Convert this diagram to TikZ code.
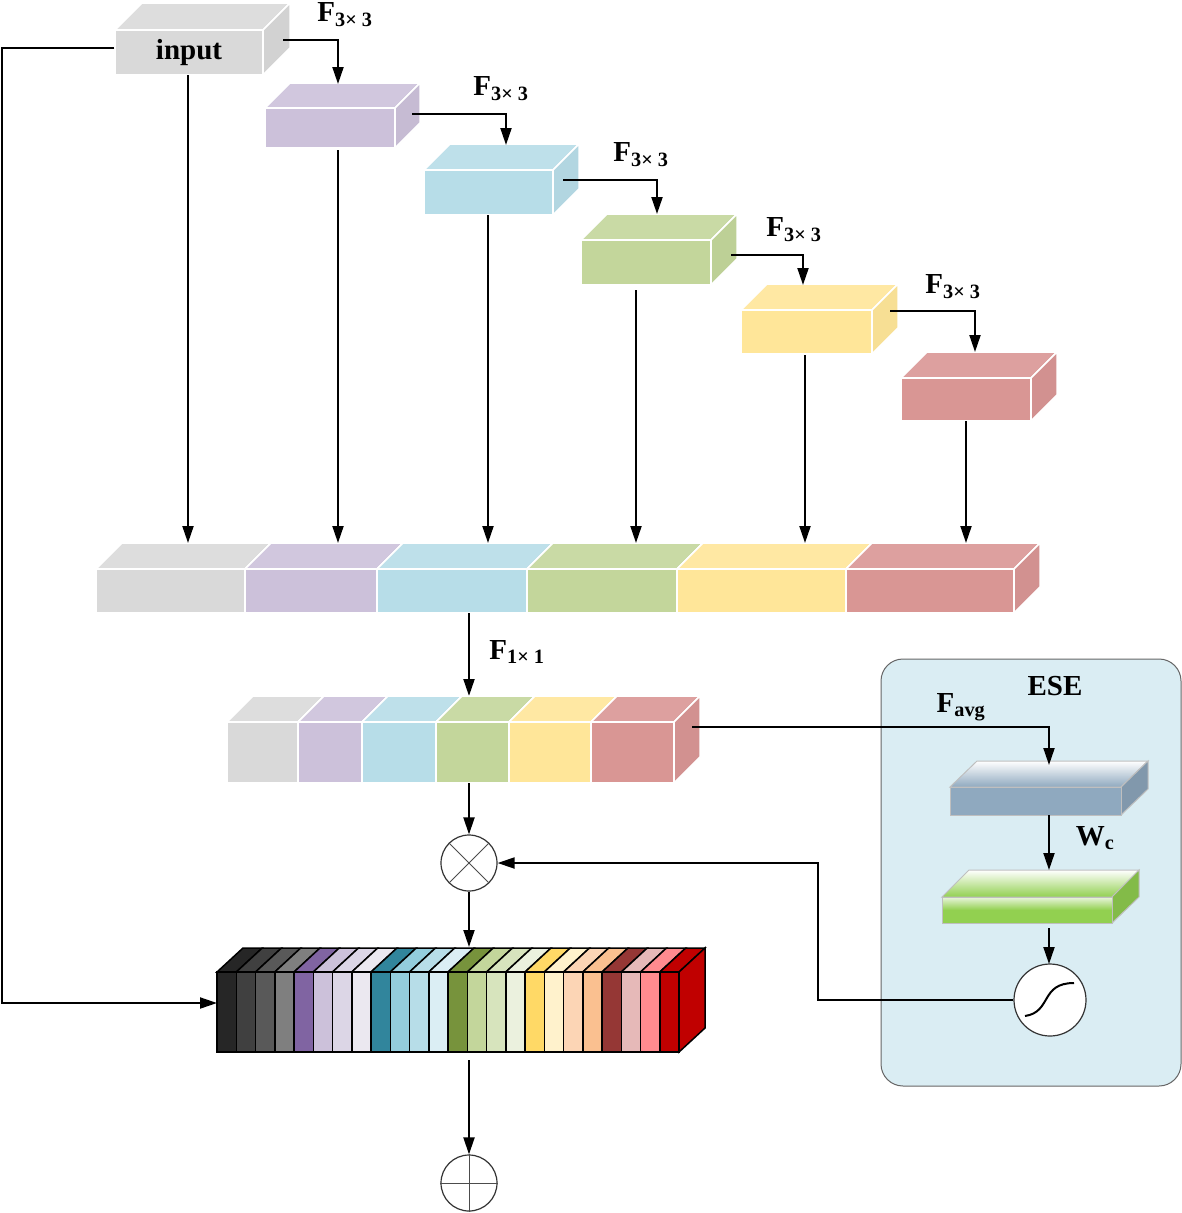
\documentclass[tikz,border=0pt]{standalone}
\usepackage{fontspec}
\setmainfont{Liberation Serif}
\usetikzlibrary{arrows.meta}

\definecolor{cgray}{HTML}{D9D9D9}
\definecolor{cpurple}{HTML}{CCC1DA}
\definecolor{cblue}{HTML}{B7DDE8}
\definecolor{cgreen}{HTML}{C3D69B}
\definecolor{cyellow}{HTML}{FFE699}
\definecolor{cred}{HTML}{D99694}
\definecolor{eseback}{HTML}{DAEDF3}
\definecolor{slabblue}{HTML}{8FA9BF}
\definecolor{slabgreen}{HTML}{92D050}
\definecolor{stripred}{HTML}{C00000}

\tikzset{
  lbl/.style={font=\fontsize{29}{33}\selectfont\bfseries, inner sep=0pt},
  arr/.style={-{Triangle[length=17pt,width=11pt]}, line width=2pt},
  face/.style={draw=white, line width=1.5pt},
}

% cube: name, x1, y1, x2, y2, depth, colour
\newcommand{\cube}[7]{%
  \fill[face, fill=#7!90!white] (#2,#3) -- (#2+#6,#3-#6) -- (#4+#6,#3-#6) -- (#4,#3) -- cycle;
  \fill[face, fill=#7!97!black] (#4,#3) -- (#4+#6,#3-#6) -- (#4+#6,#5-#6) -- (#4,#5) -- cycle;
  \node[face, fill=#7, inner sep=0pt, minimum width={(#4-#2)*1pt}, minimum height={(#5-#3)*1pt}]
    (#1) at ({(#2+#4)/2},{(#3+#5)/2}) {};
}

\begin{document}
\begin{tikzpicture}[x=1pt, y=-1pt]
\useasboundingbox (0,0) rectangle (1182,1213);

% ESE panel
\node[draw=black!60, fill=eseback, rounded corners=22pt, line width=1pt, minimum width=300pt, minimum height=427pt, inner sep=0pt] (ese) at (1031,872.5) {};
\node[lbl] (esel) at (1055,686) {ESE};

% feature blocks
\cube{in}{115}{30}{263}{75}{27}{cgray}
\node[lbl] at (in) {input};
\cube{b1}{265}{108}{395}{148}{25}{cpurple}
\cube{b2}{424}{170}{553}{215}{26}{cblue}
\cube{b3}{581}{240}{711}{285}{26}{cgreen}
\cube{b4}{741}{310}{872}{354}{26}{cyellow}
\cube{b5}{901}{378}{1031}{421}{26}{cred}

% chained 3x3 convolutions
\draw[arr] (283,40) -| (338,84);
\node[lbl] at (345,15) {F\textsubscript{3× 3}};
\draw[arr] (412,114) -| (506,145);
\node[lbl] at (501,89) {F\textsubscript{3× 3}};
\draw[arr] (563,180) -| (657,214);
\node[lbl] at (641,155) {F\textsubscript{3× 3}};
\draw[arr] (731,255) -| (803,285);
\node[lbl] at (794,230) {F\textsubscript{3× 3}};
\draw[arr] (890,311) -| (975,352);
\node[lbl] at (953,287) {F\textsubscript{3× 3}};

% concatenation bar
\foreach \xa/\xb/\c [count=\i] in {96/245/cgray,245/377/cpurple,377/527/cblue,527/677/cgreen,677/846/cyellow,846/1014/cred}
  \cube{cat\i}{\xa}{569}{\xb}{613}{26}{\c};

\draw[arr] (188,75) -- (188,543);
\draw[arr] (338,150) -- (338,543);
\draw[arr] (488,215) -- (488,543);
\draw[arr] (636,290) -- (636,543);
\draw[arr] (805,355) -- (805,543);
\draw[arr] (966,421) -- (966,543);

% 1x1 reduction
\draw[arr] (469,613) -- (469,696);
\node[lbl] at (517,652) {F\textsubscript{1× 1}};
\foreach \xa/\xb/\c [count=\i] in {227/298/cgray,298/362/cpurple,362/436/cblue,436/509/cgreen,509/591/cyellow,591/674/cred}
  \cube{red\i}{\xa}{722}{\xb}{783}{26}{\c};

% ESE branch
\shade[draw=black!25, line width=1pt, top color=white, bottom color=slabblue] (950,787) -- (977,761) -- (1148,761) -- (1121,787) -- cycle;
\fill[draw=black!25, line width=1pt, fill=slabblue!90!black] (1121,787) -- (1148,761) -- (1148,789) -- (1121,815) -- cycle;
\node[draw=black!25, line width=1pt, fill=slabblue, inner sep=0pt, minimum width=171pt, minimum height=28pt] (fc1) at (1035.5,801) {};
\shade[draw=black!25, line width=1pt, top color=white, bottom color=slabgreen] (942,897) -- (969,870) -- (1139,870) -- (1112,897) -- cycle;
\fill[draw=black!25, line width=1pt, fill=slabgreen!90!black] (1112,897) -- (1139,870) -- (1139,897) -- (1112,923) -- cycle;
\shade[draw=black!25, line width=1pt, top color=slabgreen!20, bottom color=slabgreen, middle color=slabgreen] (942,897) rectangle (1112,923);
\coordinate (fc2) at (1027,910);
\node[draw=black!80, fill=white, circle, minimum size=72pt, inner sep=0pt, line width=1.2pt] (sig) at (1050,1000) {};
\draw[line width=2pt] (1025,1016) .. controls (1052,1012) and (1040,983) .. (1074,983);

\draw[arr] (692,727) -| (1049,765);
\node[lbl] at (961,707) {F\textsubscript{avg}};
\draw[arr] (1049,815) -- (1049,870);
\node[lbl] at (1095,838) {W\textsubscript{c}};
\draw[arr] (1049,928) -- (1049,964);

% reweighting
\node[draw=black!80, fill=white, circle, minimum size=56pt, inner sep=0pt, line width=1.2pt] (mul) at (469,863) {};
\draw[line width=1pt, black!70] (mul.north west) -- (mul.south east) (mul.north east) -- (mul.south west);
\draw[arr] (mul.north |- 0,783) -- (mul.north);
\draw[arr] (sig.west) -- (818,1000) |- (mul.east);

% output bar
\foreach \c [count=\i] in {262626,404040,595959,7F7F7F,8064A2,CCC1DA,DCD6E6,EBE8F0,31859C,93CDDD,B7DDE8,DBEEF4,77933C,C3D69B,D7E4BD,EBF1DE,FFD966,FFF2CC,FCD5B5,FAC090,953735,E6B9B8,FF8B8F,C00000}{
  \definecolor{strip}{HTML}{\c}
  \pgfmathsetmacro{\xa}{217+(\i-1)*19.25}
  \pgfmathsetmacro{\xb}{\xa+19.25}
  \filldraw[fill=strip, draw=black, line width=1.5pt] (\xa,972) -- (\xa+26,948) -- (\xb+26,948) -- (\xb,972) -- cycle;
  \filldraw[fill=strip, draw=black, line width=1.5pt] (\xa,972) rectangle (\xb,1052);
}
\filldraw[fill=stripred, draw=black, line width=1.5pt] (679,972) -- (705,948) -- (705,1028) -- (679,1052) -- cycle;
\coordinate (outw) at (217,1003);
\coordinate (outs) at (469,1060);

\draw[arr] (mul.south) -- (mul.south |- 0,947);
\draw[arr] (in.west |- 0,48) -- (2,48) |- (outw);

% residual add
\node[draw=black!80, fill=white, circle, minimum size=56pt, inner sep=0pt, line width=1.2pt] (add) at (469,1183) {};
\draw[line width=1pt, black!70] (add.north) -- (add.south) (add.west) -- (add.east);
\draw[arr] (outs) -- (add.north);
\end{tikzpicture}
\end{document}
